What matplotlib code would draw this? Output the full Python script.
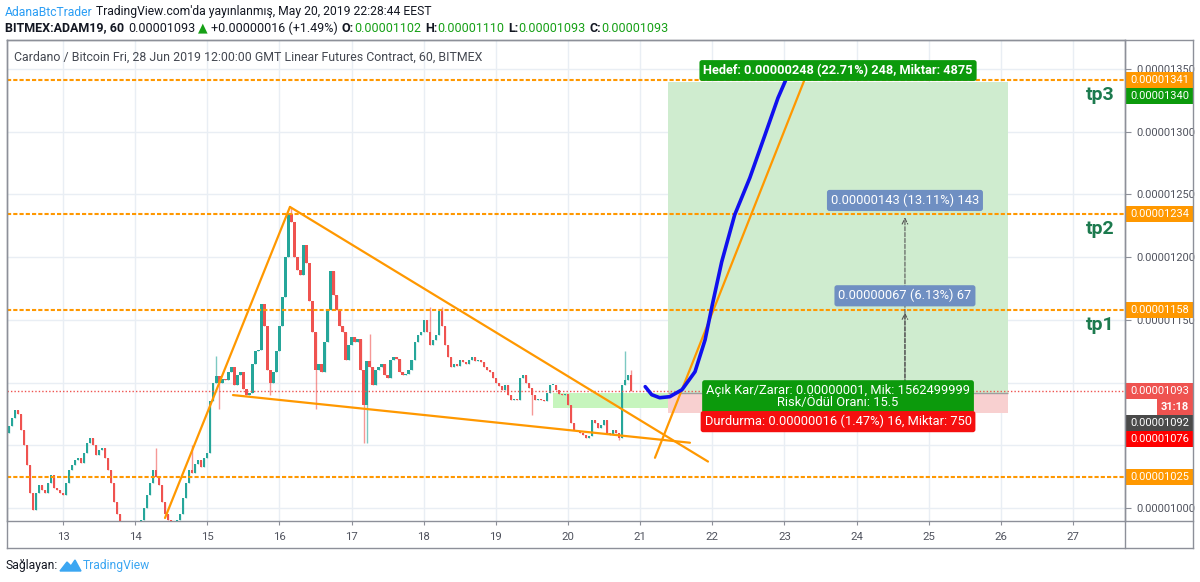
import matplotlib
matplotlib.use('Agg')
import matplotlib.pyplot as plt
from matplotlib.patches import Rectangle, Polygon
from matplotlib.lines import Line2D
import numpy as np

W, H = 1200, 582
plt.rcParams['font.family'] = ['Roboto', 'DejaVu Sans']

# hourly closes, price in units of 1e-8 BTC (ADAM19, 60)
closes = [
    1065, 1072, 1078, 1075,
    1062, 1050, 1034, 1012, 998,
    1012, 1018, 1014, 1012, 1020, 1026, 1016, 1014, 1012, 1010,
    1020, 1030, 1034, 1038, 1040, 1036, 1044, 1052, 1056, 1050,
    1042, 1046, 1048, 1040, 1030, 1020, 1005, 995,
    985, 980, 978, 982, 985, 983, 986, 990,
    1000, 1010, 1020, 1030, 1025, 1018, 1005, 995, 990, 985, 988, 990, 995,
    1008, 1020, 1030, 1028, 1035, 1038, 1033, 1040, 1044,
    1085, 1100, 1105, 1100, 1103, 1102, 1108, 1112, 1098, 1106, 1108, 1095, 1090, 1092, 1115, 1125,
    1126, 1163, 1145, 1110, 1100, 1108, 1125, 1145, 1168, 1200, 1234, 1228, 1200,
    1190, 1186, 1210, 1195, 1165, 1140, 1110, 1115, 1108, 1132, 1158, 1189, 1170,
    1158, 1145, 1140, 1118, 1130, 1136, 1132, 1135, 1110, 1082, 1117, 1112, 1098, 1110, 1112, 1115, 1106, 1104, 1118, 1120,
    1119, 1108, 1106, 1107, 1110, 1118, 1132, 1138, 1140, 1150, 1140, 1130, 1134, 1138,
    1157, 1145, 1130, 1120, 1112, 1115, 1113, 1118, 1116, 1115, 1118, 1120, 1117, 1118, 1116, 1112, 1110, 1108, 1104,
    1100, 1097, 1094, 1098, 1090, 1086, 1087, 1086, 1104, 1106, 1100, 1096, 1090, 1086, 1087, 1086, 1085,
    1092, 1098, 1098, 1094, 1091, 1090, 1091, 1082, 1068, 1062, 1061, 1060, 1058, 1056, 1057,
    1070, 1068, 1064, 1066, 1070, 1060, 1058, 1062, 1060, 1056, 1098, 1102, 1106,
    1093,
]
first_open = 1060
last_time = 20 + 21 / 24   # day of May

# notable wicks (day, high, low)
wick_days = [14.31, 14.81, 15.14, 15.18, 15.89, 16.18, 16.52, 17.18, 17.21, 17.27,
             18.07, 18.25, 19.50, 20.69, 20.80, 20.87]
wick_hi = [1048, 1050, 1121, None, None, 1240, None, None, None, 1139,
           1160, 1160, None, None, 1125, 1110]
wick_lo = [None, None, None, 1079, 1090, None, 1079, 1052, 1052, None,
           None, None, 1074, 1054, None, None]

levels = [1341, 1234, 1158, 1025]
level_names = ['tp3', 'tp2', 'tp1']
current_price = 1093
entry_price, target_price, stop_price = 1092, 1340, 1076
tool_days = (21.385, 26.10)
band_days = (19.79, 21.385)
band_prices = (1080, 1092)

rise_line = ([14.414, 16.146], [992, 1240])
top_line = ([16.146, 21.94], [1240, 1037])
bottom_line = ([15.356, 21.69], [1090, 1052])
break_line = ([21.205, 23.33], [1040, 1349])

blue_days = [21.07, 21.16, 21.27, 21.41, 21.58, 21.76, 21.90, 22.00, 22.13, 22.31, 22.52, 22.73, 22.91, 23.03]
blue_vals = [1096.7, 1090.3, 1087.9, 1088.7, 1094.3, 1108.6, 1134.1, 1162, 1196.2, 1233.7, 1263.2, 1297.4, 1326.9, 1342.8]

measure_day = 24.67
measure_labels = ['0.00000143 (13.11%) 143', '0.00000067 (6.13%) 67']
measure_tops = [1234, 1158]

day_ticks = list(range(13, 28))
price_ticks = list(range(1000, 1351, 50))

UP, DOWN = '#26a69a', '#ef5350'
ORANGE = '#ff9800'

fig = plt.figure(figsize=(W / 100, H / 100), dpi=100)
ax = fig.add_axes([7 / W, 1 - 521 / H, (1125 - 7) / W, (521 - 40) / H])
ax.set_xlim(12.224, 27.72)
ax.set_ylim(989.6, 1373.1)

# grid
for d in day_ticks:
    ax.axvline(d, color='#e9eef4', lw=1, zorder=0)
for p in price_ticks:
    ax.axhline(p, color='#e9eef4', lw=1, zorder=0)

# candles
n = len(closes)
t = np.array([last_time - (n - 1 - i) / 24 for i in range(n)])
c = np.array(closes, float)
o = np.array([first_open] + closes[:-1], float)
hi = np.maximum(o, c)
lo = np.minimum(o, c)
for d, h, l in zip(wick_days, wick_hi, wick_lo):
    k = int(np.argmin(np.abs(t - d)))
    if h is not None:
        hi[k] = max(hi[k], h)
    if l is not None:
        lo[k] = min(lo[k], l)
cols = [UP if cc >= oo else DOWN for oo, cc in zip(o, c)]
ax.vlines(t, lo, hi, colors=cols, lw=1, alpha=0.6, zorder=3)
ax.bar(t, np.maximum(np.abs(c - o), 0.8), bottom=np.minimum(o, c), width=0.8 / 24,
       color=cols, zorder=4, linewidth=0)

# long position tool
ax.add_patch(Rectangle((band_days[0], band_prices[0]), band_days[1] - band_days[0],
                       band_prices[1] - band_prices[0], color='#c6f5bd', lw=0, zorder=2))
ax.add_patch(Rectangle((tool_days[0], entry_price), tool_days[1] - tool_days[0],
                       target_price - entry_price, color='#cfeccf', lw=0, zorder=1))
ax.add_patch(Rectangle((tool_days[0], stop_price), tool_days[1] - tool_days[0],
                       entry_price - stop_price, color='#f8d0d0', lw=0, zorder=1))
ax.hlines(entry_price, tool_days[0], tool_days[1], color='#9e9e9e', lw=1, zorder=2)

# levels
for v in levels:
    ax.axhline(v, color=ORANGE, ls=(0, (2, 1)), lw=1.5, zorder=5)
ax.axhline(current_price, color=DOWN, ls=(0, (1, 1.5)), lw=1, zorder=5)

for xs, ys in [rise_line, top_line, bottom_line, break_line]:
    ax.plot(xs, ys, color=ORANGE, lw=1.6, zorder=6, solid_capstyle='round')
ax.plot(blue_days, blue_vals, color='#1010ee', lw=2.6, zorder=7, solid_capstyle='round')

# measure arrows
for top, lab in zip(measure_tops, measure_labels):
    ax.annotate('', xy=(measure_day, top), xytext=(measure_day, entry_price),
                arrowprops=dict(arrowstyle='->', color='#555555', lw=0.8, ls='--'), zorder=8)
    ax.annotate(lab, xy=(measure_day, top), xytext=(0, 14), textcoords='offset pixels',
                ha='center', va='center', color='white', fontsize=9.3, zorder=9,
                bbox=dict(boxstyle='round,pad=0.3,rounding_size=0.2', fc='#6f8fc2', ec='none'))

mid = (tool_days[0] + tool_days[1]) / 2
box = dict(boxstyle='round,pad=0.3,rounding_size=0.2', ec='none')
ax.annotate('Hedef: 0.00000248 (22.71%) 248, Miktar: 4875', xy=(mid, target_price),
            xytext=(0, 11), textcoords='offset pixels', ha='center', va='center',
            color='white', fontsize=9.2, fontweight='bold', zorder=9, bbox=dict(box, fc='#0c9a0c'))
ax.annotate('Açık Kar/Zarar: 0.00000001, Mik: 1562499999\nRisk/Ödül Oranı: 15.5',
            xy=(mid, entry_price), xytext=(0, -4), textcoords='offset pixels', ha='center',
            va='center', color='white', fontsize=9.3, linespacing=0.9, zorder=9,
            bbox=dict(box, fc='#0c9a0c'))
ax.annotate('Durdurma: 0.00000016 (1.47%) 16, Miktar: 750', xy=(mid, stop_price),
            xytext=(0, -9), textcoords='offset pixels', ha='center', va='center',
            color='white', fontsize=9.3, zorder=9, bbox=dict(box, fc='#f50f0f'))

for v, name in zip(levels, level_names):
    ax.annotate(name, xy=(27.38, v), xytext=(0, -15), textcoords='offset pixels',
                ha='center', va='center', color='#1c7a4e', fontsize=14, fontweight='bold', zorder=9)

# axes styling
for s in ax.spines.values():
    s.set_color('#8d9099')
    s.set_linewidth(1)
ax.yaxis.tick_right()
ax.set_yticks(price_ticks)
# tick labels hidden behind the coloured price labels
covered = [1050, 1100]
ax.set_yticklabels(['' if p in covered else f'{p / 1e8:.8f}' for p in price_ticks])
ax.set_xticks(day_ticks)
ax.set_xticklabels([str(d) for d in day_ticks])
ax.tick_params(axis='y', length=4, pad=4, color='#8d9099', labelcolor='#50535e', labelsize=7.9)
ax.tick_params(axis='x', length=3, pad=5, color='#8d9099', labelcolor='#50535e', labelsize=8.2)

ax.text(0.006, 0.965, 'Cardano / Bitcoin Fri, 28 Jun 2019 12:00:00 GMT Linear Futures Contract, 60, BITMEX',
        transform=ax.transAxes, ha='left', va='center', fontsize=8.9, color='#444851', zorder=10)

# outer frame
def fline(x0, y0, x1, y1, color='#8d9099'):
    fig.add_artist(Line2D([x0 / W, x1 / W], [1 - y0 / H, 1 - y1 / H], color=color, lw=1,
                          transform=fig.transFigure))

fline(7, 40, 1193, 40)
fline(7, 40, 7, 548)
fline(7, 548, 1193, 548)
fline(1193, 40, 1193, 548)
fline(1125, 40, 1125, 548)
fline(1125, 521, 1193, 521)

# right axis price labels
right_labels = [(1341, ORANGE, False), (1340, '#0c9a0c', False), (1234, ORANGE, False),
                (1158, ORANGE, False), (current_price, '#ef5350', True), (1092, '#4a4a4a', False),
                (1076, '#ff0000', False), (1025, ORANGE, False)]
prev_bottom = -1e9
for v, col, countdown in sorted(right_labels, key=lambda r: -r[0]):
    y_true = H - ax.transData.transform((20, v))[1]
    cy = max(y_true, prev_bottom + 8)
    fig.add_artist(Rectangle((1125 / W, 1 - (cy + 8) / H), 68 / W, 16 / H, color=col, lw=0,
                             transform=fig.transFigure))
    fig.text(1160 / W, 1 - cy / H, f'{v / 1e8:.8f}', ha='center', va='center', color='white',
             fontsize=7.9)
    prev_bottom = cy + 8
    if countdown:
        fig.add_artist(Rectangle((1157 / W, 1 - (cy + 24) / H), 36 / W, 16 / H, color=col, lw=0,
                                 transform=fig.transFigure))
        fig.text(1175 / W, 1 - (cy + 16) / H, '31:18', ha='center', va='center', color='white',
                 fontsize=7.9, fontweight='bold')
        prev_bottom = cy + 24

# header runs
renderer = fig.canvas.get_renderer()

def runs(x, y, items, size):
    for s, col, wt, gap in items:
        x += gap
        tx = fig.text(x / W, 1 - y / H, s, ha='left', va='center', color=col, fontsize=size,
                      fontweight=wt)
        x += tx.get_window_extent(renderer).width

BLK, GRN = '#131722', '#16a016'
runs(5, 12, [('AdanaBtcTrader', '#2a9df4', 'normal', 0),
             ("TradingView.com'da yayınlanmış, May 20, 2019 22:28:44 EEST", BLK, 'normal', 3.5)], 8.7)
runs(5, 28, [('BITMEX:ADAM19, 60', BLK, 'bold', 0), ('0.00001093', BLK, 'normal', 4),
             ('▲', GRN, 'normal', 3), ('+0.00000016 (+1.49%)', BLK, 'normal', 3),
             ('O:', BLK, 'bold', 4), ('0.00001102', GRN, 'normal', 0),
             ('H:', BLK, 'bold', 4), ('0.00001110', GRN, 'normal', 0),
             ('L:', BLK, 'bold', 4), ('0.00001093', GRN, 'normal', 0),
             ('C:', BLK, 'bold', 4), ('0.00001093', GRN, 'normal', 0)], 9.0)

# footer
fig.text(5 / W, 1 - 565 / H, 'Sağlayan:', ha='left', va='center', fontsize=8.7, color=BLK)
logo = [(60, 571), (67, 562), (71, 566), (75, 560), (81, 571)]
fig.add_artist(Polygon([(px / W, 1 - py / H) for px, py in logo], closed=True, color='#3ba6f2',
                       transform=fig.transFigure))
fig.text(83 / W, 1 - 565 / H, 'TradingView', ha='left', va='center', fontsize=8.7, color='#3ba6f2')

fig.savefig('out.png', dpi=100)
